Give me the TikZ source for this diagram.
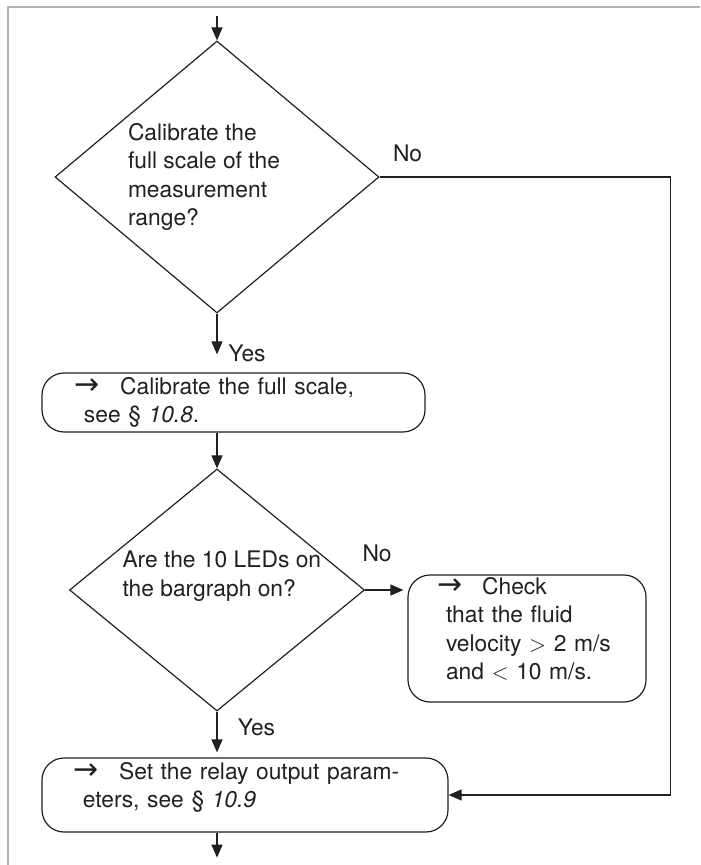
\documentclass[tikz,border=0pt]{standalone}
\usepackage{fontspec}
\setmainfont{TeX Gyre Heros}
\newfontfamily\arrowfont{DejaVu Sans}
\usepackage{xcolor}
\usepackage{tikz}
\usetikzlibrary{positioning,shapes,arrows.meta}
\definecolor{inkBlack}{HTML}{231F20}
\definecolor{frameGray}{HTML}{B4B4B4}
\newcommand{\goto}{{\arrowfont\fontsize{15}{15}\selectfont →}\hspace{10pt}}
\newcommand{\deepen}{\rule[-10pt]{0pt}{10pt}}
\tikzstyle{decision}=[diamond, draw, inner sep=0pt]
\tikzstyle{action}  =[rectangle, rounded corners=11pt, draw, align=left, inner sep=0pt]
\tikzstyle{question}=[align=left, inner sep=0pt]
\tikzstyle{answer}  =[inner sep=0pt]

\begin{document}
\begin{tikzpicture}[>={Triangle[length=6.5pt,width=5.5pt]}, on grid, line width=0.6pt,
    draw=inkBlack, text=inkBlack, font=\fontsize{11.4}{14.3}\selectfont]
  \useasboundingbox (-108.5pt,88.5pt) rectangle (241.5pt,-344pt);
  \draw[frameGray, line width=1pt] (-104.5pt,-344pt) -- (-104.5pt,85pt) -- (241.5pt,85pt);

  \node[decision, minimum width=162pt, minimum height=136pt] (d1) {};
  \node[question, anchor=west, xshift=36.5pt] (q1) at (d1.west)
    {Calibrate the\\full scale of the\\measurement\\range?};
  \node[action, minimum width=191.5pt, minimum height=29.5pt, text width=158.5pt,
    below right=112.75pt and 8.25pt of d1] (b1)
    {\goto Calibrate the full scale,\\\hspace*{4.5pt}see \S~\textit{10.8}.};

  \node[decision, minimum width=147.5pt, minimum height=121pt, below=206.5pt of d1] (d2) {};
  \node[question, anchor=west, xshift=26.5pt, yshift=7pt] (q2) at (d2.west)
    {Are the 10 LEDs on\\the bargraph on?};
  \node[action, minimum width=119pt, minimum height=63.5pt, text width=90pt,
    below right=24.25pt and 155pt of d2] (b2)
    {\goto Check\\\hspace*{4.5pt}that the fluid\\\hspace*{4.5pt}velocity $>$ 2 m/s\\\hspace*{4.5pt}and $<$ 10 m/s.\deepen};
  \node[action, minimum width=203pt, minimum height=37pt, text width=171pt,
    below right=102.5pt and 14pt of d2] (b3)
    {\goto Set the relay output param-\\\hspace*{4.5pt}eters, see \S~\textit{10.9}\deepen};

  % answers
  \node[answer, above right=12pt and 14pt of d1.east, anchor=center] (no1) {No};
  \node[answer, below right=20pt and 15pt of d1.south, anchor=center] (yes1) {Yes};
  \node[answer, above right=18.5pt and 6pt of d2.east, anchor=center] (no2) {No};
  \node[answer, below right=7.75pt and 19.75pt of d2.south, anchor=center] (yes2) {Yes};

  \coordinate[above=12pt of d1.north] (in);
  \coordinate[below=73pt of d2.south] (out);
  \coordinate[right=111pt of b3.east] (c1);

  \draw[->] (in) -- (d1.north);
  \draw[->, shorten >=9pt] (d1.south) -- (d1.south |- b1.north);
  \draw[->] (d1.south |- b1.south) -- (d2.north);
  \draw[->] (d1.east) -| (c1) -- (b3.east);
  \draw[->, shorten >=2pt] (d2.east) -- (d2.east -| b2.west);
  \draw[->, shorten >=2.5pt] (d2.south) -- (d2.south |- b3.north);
  \draw[->] (d2.south |- b3.south) -- (out);
\end{tikzpicture}
\end{document}
